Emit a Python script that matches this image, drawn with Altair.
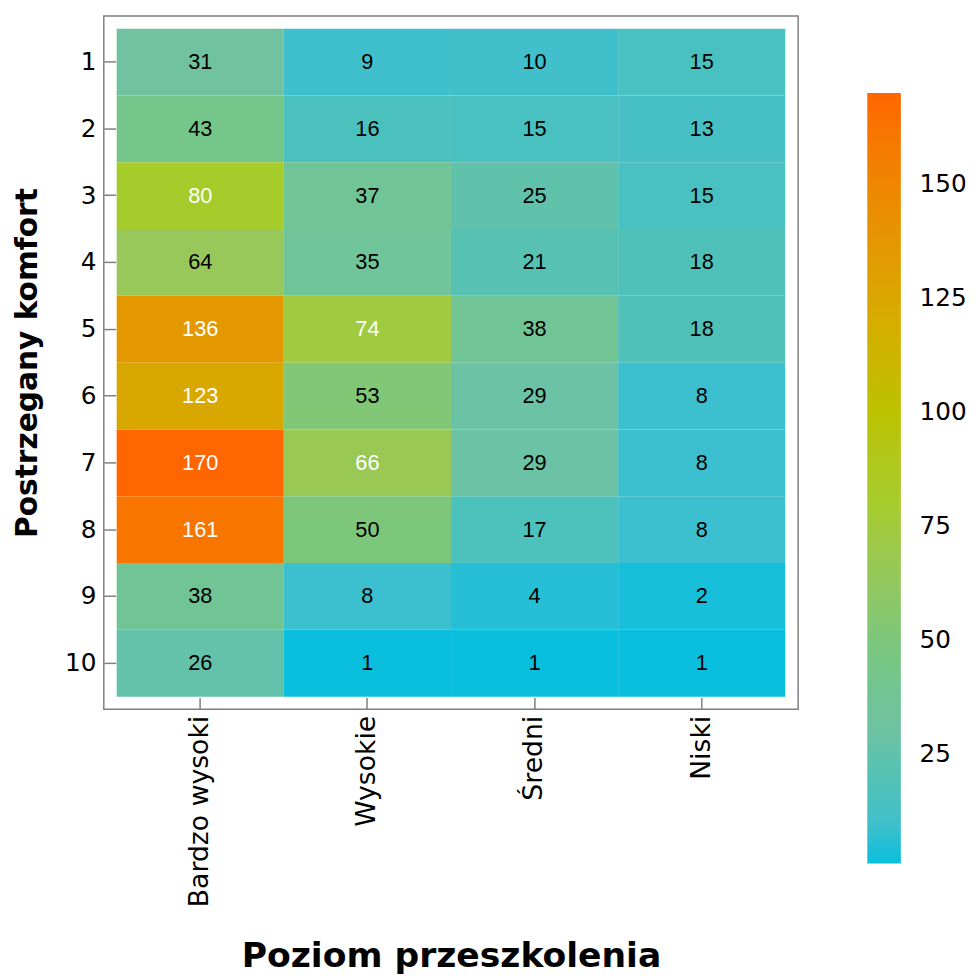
import altair as alt
import pandas as pd

levels = ["Bardzo wysoki", "Wysokie", "Średni", "Niski"]
comfort = [1, 2, 3, 4, 5, 6, 7, 8, 9, 10]
bardzo_wysoki = [31, 43, 80, 64, 136, 123, 170, 161, 38, 26]
wysokie = [9, 16, 37, 35, 74, 53, 66, 50, 8, 1]
sredni = [10, 15, 25, 21, 38, 29, 29, 17, 4, 1]
niski = [15, 13, 15, 18, 18, 8, 8, 8, 2, 1]

color_stops = [1, 9, 31, 64, 80, 100, 123, 136, 170]
color_range = ["#0abfdd", "#40bfcc", "#70c2a0", "#98c75a", "#a6cc2c",
               "#bcc200", "#d9a800", "#e39800", "#ff6600"]
legend_values = [25, 50, 75, 100, 125, 150]

rows = []
for lvl, series in zip(levels, [bardzo_wysoki, wysokie, sredni, niski]):
    for c, v in zip(comfort, series):
        rows.append({"poziom": lvl, "komfort": c, "n": v})
df = pd.DataFrame(rows)

FONT = "DejaVu Sans"
GRAY = "#7f7f7f"

x_enc = alt.X("poziom:N", sort=levels,
              scale=alt.Scale(paddingInner=0, paddingOuter=0.077),
              axis=alt.Axis(title="Poziom przeszkolenia", labelAngle=-90,
                            offset=-12, tickSize=12, domain=False, labelLimit=400,
                            labelPadding=6, labelFontSize=27, titlePadding=44))
y_enc = alt.Y("komfort:O", sort=comfort,
              scale=alt.Scale(paddingInner=0, paddingOuter=0.19),
              axis=alt.Axis(title="Postrzegany komfort", labelAngle=0,
                            offset=-12, tickSize=12, domain=False,
                            labelPadding=8, titlePadding=22))

base = alt.Chart(df).encode(x=x_enc, y=y_enc)

rects = base.mark_rect().encode(
    color=alt.Color("n:Q",
                    scale=alt.Scale(type="linear", domain=color_stops, range=color_range),
                    legend=alt.Legend(title=None, orient="none", legendX=773, legendY=78,
                                      direction="vertical", gradientLength=780,
                                      gradientThickness=34, gradientStrokeWidth=0,
                                      values=legend_values, labelFontSize=25,
                                      labelFont=FONT, labelColor="black",
                                      labelOffset=19))
)

texts = base.mark_text(font="Liberation Sans", fontSize=22, baseline="middle").encode(
    text="n:Q",
    color=alt.condition(alt.datum.n > 65, alt.value("white"), alt.value("black"))
)

chart = alt.layer(rects, texts).properties(
    width=703, height=702,
    padding={"top": 2, "left": 5, "right": 2, "bottom": 2}
).configure_view(
    stroke=GRAY, strokeWidth=1.5
).configure_axis(
    labelFont=FONT, labelFontSize=25, labelColor="black",
    titleFont=FONT, titleFontWeight="bold", titleColor="black",
    tickColor=GRAY, tickWidth=1.5, grid=False
).configure_axisX(
    titleFontSize=35
).configure_axisY(
    titleFontSize=30
)

chart.save("out.html", embed_options={"renderer": "svg", "actions": False})
